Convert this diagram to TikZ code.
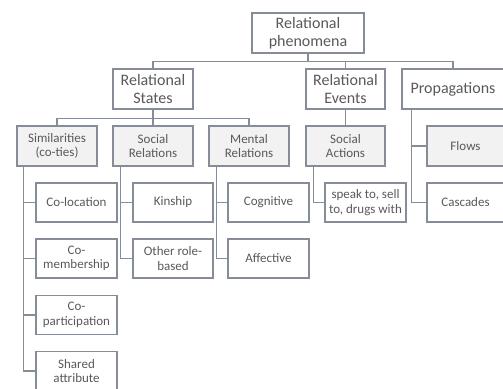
\documentclass[tikz,border=0pt]{standalone}
\usepackage{fontspec}
\setmainfont{Carlito}
\usetikzlibrary{positioning}

\definecolor{linec}{HTML}{878D98}
\definecolor{textc}{HTML}{595959}
\definecolor{shade}{HTML}{F2F2F2}

\tikzset{
  box/.style={draw=linec, line width=1.3pt, text=textc, align=center,
    inner sep=1pt, minimum height=40pt},
  topbox/.style={box, font=\fontsize{16}{18.5}\selectfont},
  midbox/.style={box, fill=shade, minimum width=80pt, font=\fontsize{13}{14.5}\selectfont},
  leafbox/.style={box, minimum width=81pt, minimum height=39pt, font=\fontsize{13}{14.5}\selectfont},
  link/.style={draw=linec, line width=1.3pt}
}

\begin{document}
\begin{tikzpicture}[x=1pt, y=-1pt]
\useasboundingbox (0,0) rectangle (503,388);

% rows
\def\ya{33}
\def\yb{89}
\def\yc{146}
\def\yd{202.5}
\def\ye{258.5}
\def\yf{315}
\def\yg{371}

\node[topbox, minimum width=112pt] (rel) at (308, \ya) {Relational\\phenomena};

\node[topbox, minimum width=80pt] (states) at (153, \yb) {Relational\\States};
\node[topbox, minimum width=79pt] (events) at (345.5, \yb) {Relational\\Events};
\node[topbox, minimum width=102pt] (prop) at (453, \yb) {Propagations};

\node[midbox] (simil) at (57, \yc) {Similarities\\(co-ties)};
\node[midbox] (socrel) at (153, \yc) {Social\\Relations};
\node[midbox] (mental) at (249, \yc) {Mental\\Relations};
\node[midbox, minimum width=79pt] (socact) at (345.5, \yc) {Social\\Actions};
\node[midbox, minimum width=77pt] (flows) at (465.5, \yc) {Flows};

\def\xa{76.5}
\node[leafbox] (coloc) at (\xa, \yd) {Co-location};
\node[leafbox] (comem) at (\xa, \ye) {Co-\\membership};
\node[leafbox] (copart) at (\xa, \yf) {Co-\\participation};
\node[leafbox] (shared) at (\xa, \yg) {Shared\\attribute};

\def\xb{173}
\node[leafbox, minimum width=80pt] (kin) at (\xb, \yd) {Kinship};
\node[leafbox, minimum width=80pt] (role) at (\xb, \ye) {Other role-\\based};

\def\xc{268.5}
\node[leafbox] (cog) at (\xc, \yd) {Cognitive};
\node[leafbox] (aff) at (\xc, \ye) {Affective};

\node[leafbox] (speak) at (365.5, \yd) {speak to, sell\\to, drugs with};
\node[leafbox, minimum width=77pt] (casc) at (465.5, \yd) {Cascades};

% tree links
\foreach \kid in {states, events, prop}
  \draw[link] (rel.south) -- ++(0,8) -| (\kid.north);
\foreach \kid in {simil, socrel, mental}
  \draw[link] (states.south) -- ++(0,9) -| (\kid.north);
\draw[link] (events.south) -- (socact.north);

% side links
\foreach \kid in {coloc, comem, copart, shared}
  \draw[link] ([xshift=7.3pt]simil.south west) |- (\kid.west);
\foreach \kid in {kin, role}
  \draw[link] ([xshift=8pt]socrel.south west) |- (\kid.west);
\foreach \kid in {cog, aff}
  \draw[link] ([xshift=8pt]mental.south west) |- (\kid.west);
\draw[link] ([xshift=8pt]socact.south west) |- (speak.west);
\foreach \kid in {flows, casc}
  \draw[link] ([xshift=10pt]prop.south west) |- (\kid.west);

\end{tikzpicture}
\end{document}
